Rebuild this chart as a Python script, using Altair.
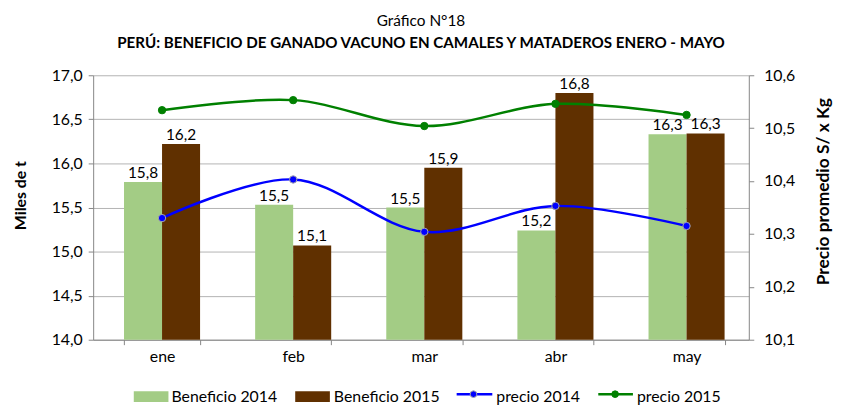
import altair as alt
import pandas as pd

meses = ["ene", "feb", "mar", "abr", "may"]
beneficio_2014 = [15.79, 15.53, 15.50, 15.24, 16.33]
beneficio_2015 = [16.22, 15.07, 15.95, 16.80, 16.34]
precio_2014 = [10.330, 10.403, 10.304, 10.353, 10.315]
precio_2015 = [10.534, 10.553, 10.504, 10.546, 10.525]

FONT = "Lato"
bars_df = pd.DataFrame({
    "mes": meses * 2,
    "serie": ["Beneficio 2014"] * 5 + ["Beneficio 2015"] * 5,
    "valor": beneficio_2014 + beneficio_2015,
})
lines_df = pd.DataFrame({
    "mes": meses * 2,
    "serie": ["precio 2014"] * 5 + ["precio 2015"] * 5,
    "precio": precio_2014 + precio_2015,
})

comma = "replace(format(datum.value, '.1f'), '.', ',')"

x_enc = alt.X("mes:N", sort=meses, title=None,
              scale=alt.Scale(paddingInner=0.42, paddingOuter=0.21, align=0.56),
              axis=alt.Axis(labelAngle=0, labelFontSize=16, labelFont=FONT, labelColor="black",
                            ticks=True, tickBand="extent", tickSize=5, tickColor="#868686",
                            domainColor="#868686", labelPadding=4))

base_bars = alt.Chart(bars_df)
bars = base_bars.mark_bar().encode(
    x=x_enc,
    xOffset=alt.XOffset("serie:N", scale=alt.Scale(paddingInner=0, paddingOuter=0)),
    y=alt.Y("valor:Q", scale=alt.Scale(domain=[14, 17], nice=False, zero=False),
            title="Miles de t",
            axis=alt.Axis(values=[14, 14.5, 15, 15.5, 16, 16.5, 17], labelExpr=comma,
                          labelFontSize=16, labelFont=FONT, labelColor="black",
                          titleFontSize=16, titleFont=FONT, titleFontWeight="bold", titleColor="black",
                          titleX=-73, titleY=121, titleAngle=270, titleAlign="center", titleBaseline="middle",
                          grid=True, gridColor="#b3b3b3", domainColor="#868686", tickColor="#868686",
                          tickSize=5, labelPadding=6)),
    y2=alt.datum(14),
    color=alt.Color("serie:N", scale=alt.Scale(domain=["Beneficio 2014", "Beneficio 2015"],
                                               range=["#a3cc85", "#603000"]), legend=None),
)
labels = base_bars.mark_text(baseline="alphabetic", dy=-4, fontSize=15.5, font=FONT, color="black").transform_calculate(
    lab="replace(format(datum.valor, '.1f'), '.', ',')"
).encode(
    x=alt.X("mes:N", sort=meses),
    xOffset=alt.XOffset("serie:N"),
    y=alt.Y("valor:Q"),
    text="lab:N",
)

line_scale = alt.Scale(domain=["precio 2014", "precio 2015"], range=["#0000ff", "#008000"])
base_lines = alt.Chart(lines_df)
lines = base_lines.mark_line(interpolate="catmull-rom", strokeWidth=2.5).encode(
    x=alt.X("mes:N", sort=meses),
    y=alt.Y("precio:Q", scale=alt.Scale(domain=[10.1, 10.6], nice=False, zero=False),
            title="Precio promedio S/ x Kg",
            axis=alt.Axis(orient="right", values=[10.1, 10.2, 10.3, 10.4, 10.5, 10.6], labelExpr=comma,
                          labelFontSize=16, labelFont=FONT, labelColor="black",
                          titleFontSize=17.5, titleFont=FONT, titleFontWeight="bold", titleColor="black",
                          titleX=75, titleY=117, titleAngle=270, titleAlign="center", titleBaseline="middle",
                          grid=False, domainColor="#868686", tickColor="#868686",
                          tickSize=5, labelPadding=10)),
    color=alt.Color("serie:N", scale=line_scale, legend=None),
)
points = base_lines.mark_circle(size=55, opacity=1, strokeWidth=1).encode(
    x=alt.X("mes:N", sort=meses),
    y=alt.Y("precio:Q"),
    color=alt.Color("serie:N", scale=line_scale, legend=None),
    stroke=alt.Stroke("serie:N", scale=alt.Scale(domain=["precio 2014", "precio 2015"],
                                                 range=["#a8a8a8", "#008000"]), legend=None),
)

left = alt.layer(bars, labels)
right = alt.layer(lines, points)

# legend
one = pd.DataFrame({"k": [0]})
def swatch(x1, x2, color):
    return alt.Chart(one).mark_rect(color=color).encode(
        x=alt.value(x1), x2=alt.value(x2), y=alt.value(319), y2=alt.value(330))
def leg_line(x1, x2, color):
    return alt.Chart(one).mark_rule(color=color, strokeWidth=2.5).encode(
        x=alt.value(x1), x2=alt.value(x2), y=alt.value(322))
def leg_dot(x, color, stroke):
    return alt.Chart(one).mark_circle(size=45, opacity=1, color=color, stroke=stroke, strokeWidth=1).encode(
        x=alt.value(x), y=alt.value(322))
def leg_text(x, t):
    return alt.Chart(one).mark_text(align="left", baseline="middle", fontSize=16, font=FONT, color="black").encode(
        x=alt.value(x), y=alt.value(325), text=alt.value(t))

legend = alt.layer(
    swatch(41, 76, "#a3cc85"), leg_text(79, "Beneficio 2014"),
    swatch(204, 239, "#603000"), leg_text(243, "Beneficio 2015"),
    leg_line(367, 403, "#0000ff"), leg_dot(384, "#0000ff", "#a8a8a8"), leg_text(407, "precio 2014"),
    leg_line(510, 545, "#008000"), leg_dot(527, "#008000", "#008000"), leg_text(549, "precio 2015"),
)

chart = alt.layer(left, right, legend).resolve_scale(
    y="independent", color="independent", stroke="independent"
).properties(
    width=662, height=267,
    autosize=alt.AutoSizeParams(type="none"),
    padding={"left": 86, "top": 66, "right": 85, "bottom": 64},
    title=alt.TitleParams(
        text="Gráfico N°18",
        subtitle="PERÚ: BENEFICIO DE GANADO VACUNO EN CAMALES Y MATADEROS ENERO - MAYO",
        anchor="middle", font=FONT, fontSize=15.5, fontWeight="normal", color="black",
        subtitleFont=FONT, subtitleFontSize=15.3, subtitleFontWeight="bold", subtitleColor="black",
        subtitlePadding=7, offset=16,
    ),
).configure_view(stroke=None)

chart.save("out.html", embed_options={"renderer": "svg", "actions": False})
